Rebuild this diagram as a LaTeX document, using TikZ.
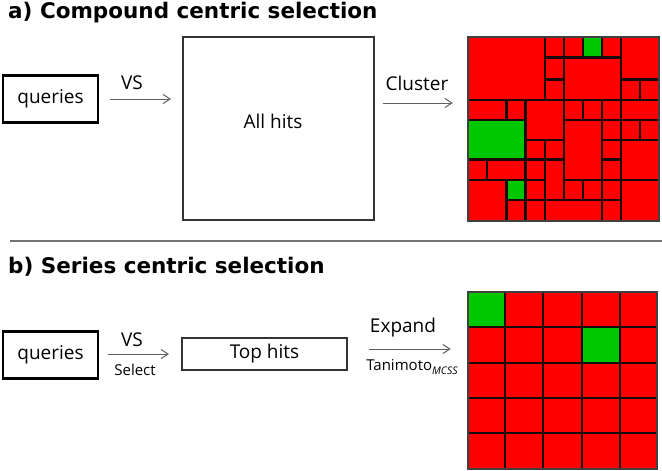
\documentclass[tikz,border=0pt]{standalone}
\usepackage{fontspec}
\setmainfont{Open Sans}
\newfontfamily\ttlfont{DejaVu Sans}
\usetikzlibrary{arrows.meta,calc}
\definecolor{cred}{RGB}{255,0,0}
\definecolor{cgreen}{RGB}{0,200,0}
\definecolor{arrgray}{RGB}{95,95,95}
\definecolor{cellline}{RGB}{25,10,10}
\begin{document}
\begin{tikzpicture}[x=1pt,y=-1pt,
  lab/.style={font=\fontsize{19}{22}\selectfont, inner sep=0pt},
  small/.style={font=\fontsize{15}{18}\selectfont, inner sep=0pt},
  ttl/.style={font=\ttlfont\bfseries\fontsize{21.5}{24}\selectfont, anchor=base west, inner sep=0pt},
  qbox/.style={draw=black, line width=2.5pt, minimum width=95pt, minimum height=47pt, inner sep=0pt, font=\fontsize{19}{22}\selectfont},
  hbox/.style={draw=black!80, line width=2pt, inner sep=0pt, font=\fontsize{19}{22}\selectfont},
  arr/.style={draw=arrgray, line width=1pt, -{Straight Barb[length=7pt,width=9pt]}},
  cell/.style={draw=cellline, line width=2.2pt, line join=miter},
  area/.style={draw=none, inner sep=0pt},
]
\useasboundingbox (0,0) rectangle (662,471);

% titles
\node[ttl] (ta) at (8,18.5) {a) Compound centric selection};
\node[ttl] (tb) at (8,273) {b) Series centric selection};
\draw[draw=black!55, line width=1.5pt] (10,241) -- (662,241);

% ---- part a ----
\node[qbox] (q1) at (50.5,99) {queries};
\node[hbox, minimum width=191pt, minimum height=183pt] (all) at (278.5,128.5) {};
\node[lab] (allt) at (273,121) {All hits};
\node[area, minimum width=191pt, minimum height=184pt] (tree) at (563.5,129) {};

\draw[arr, shorten <=11pt, shorten >=11pt] (q1.east) -- (q1.east -| all.west);
\node[lab] (vs1) at (132,83) {VS};
\draw[arr, shorten <=8pt, shorten >=15pt] ([yshift=25.5pt]all.east) -- ([yshift=25.5pt]all.east -| tree.west);
\node[lab] (cl) at (417,83) {Cluster};

\def\cx{{468,487,506.5,525.5,545,564,583,602,621,640,659}}
\def\ry{{37,57.5,79.5,100,120,140,159.5,180,200,221}}
\foreach \a/\b/\c/\d/\col in {
  0/0/4/3/cred, 4/0/5/1/cred, 5/0/6/1/cred, 6/0/7/1/cgreen, 7/0/8/1/cred,
  8/0/10/2/cred, 4/1/5/2/cred, 4/2/5/3/cred, 5/1/8/3/cred, 8/2/9/3/cred,
  9/2/10/3/cred, 0/3/2/4/cred, 2/3/3/4/cred, 3/3/5/5/cred, 5/3/6/4/cred,
  6/3/7/4/cred, 7/3/8/4/cred, 8/3/10/4/cred, 0/4/3/6/cgreen, 5/4/7/7/cred,
  7/4/8/5/cred, 8/4/9/5/cred, 9/4/10/5/cred, 3/5/4/6/cred, 4/5/5/6/cred,
  7/5/8/6/cred, 8/5/10/7/cred, 0/6/1/7/cred, 1/6/3/7/cred, 3/6/4/7/cred,
  4/6/5/8/cred, 7/6/8/7/cred, 0/7/2/9/cred, 2/7/3/8/cgreen, 3/7/4/8/cred,
  5/7/6/8/cred, 6/7/7/8/cred, 7/7/8/8/cred, 8/7/10/9/cred, 2/8/3/9/cred,
  3/8/4/9/cred, 4/8/7/9/cred, 7/8/8/9/cred} {
  \pgfmathsetmacro\xa{\cx[\a]}
  \pgfmathsetmacro\ya{\ry[\b]}
  \pgfmathsetmacro\xb{\cx[\c]}
  \pgfmathsetmacro\yb{\ry[\d]}
  \fill[\col] (\xa,\ya) rectangle (\xb,\yb);
  \draw[cell] (\xa,\ya) rectangle (\xb,\yb);
}
\draw[draw=black!75, line width=2.2pt] (tree.north west) rectangle (tree.south east);

% ---- part b ----
\node[qbox] (q2) at (50.5,355) {queries};
\node[hbox, minimum width=165pt, minimum height=32pt] (top) at (264.5,354) {Top hits};
\node[area, minimum width=189pt, minimum height=177pt] (grid) at (562.5,380.5) {};

\draw[arr, shorten <=9pt, shorten >=12pt] ([yshift=1pt]q2.east) -- ([yshift=1pt]q2.east -| top.west);
\node[lab] (vs2) at (132,340) {VS};
\node[small] (sel) at (135,370) {Select};
\draw[arr, shorten <=21pt, shorten >=17pt] ([yshift=5pt]top.east) -- ([yshift=5pt]top.east -| grid.west);
\node[lab] (exp) at (403,328) {Expand};
\node[small] (tan) at (412,367) {Tanimoto\raisebox{-3.5pt}{\fontsize{10.5}{12}\selectfont\itshape MCSS}};

\def\gx{{468,505,543,582,620,657}}
\def\gy{{292,327,363,398,433,469}}
\fill[cred] (grid.north west) rectangle (grid.south east);
\fill[cgreen] (468,292) rectangle (505,327);
\fill[cgreen] (582,327) rectangle (620,363);
\foreach \i in {0,...,5} {
  \pgfmathsetmacro\xa{\gx[\i]}
  \pgfmathsetmacro\ya{\gy[\i]}
  \draw[cell] (\xa,292) -- (\xa,469);
  \draw[cell] (468,\ya) -- (657,\ya);
}
\draw[draw=black!75, line width=2.2pt] (grid.north west) rectangle (grid.south east);
\end{tikzpicture}
\end{document}
